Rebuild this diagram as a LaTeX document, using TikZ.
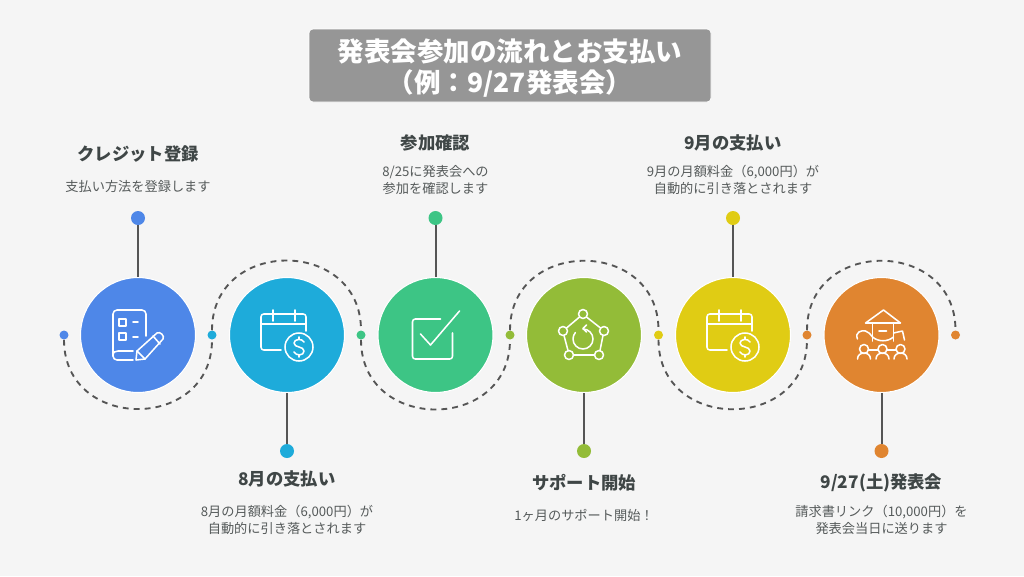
\documentclass[tikz,border=0pt]{standalone}
\usepackage{fontspec}
\setmainfont{Noto Sans CJK JP}
\definecolor{bgcol}{HTML}{F5F5F5}
\definecolor{titlecol}{HTML}{969696}
\definecolor{headcol}{HTML}{3F4646}
\definecolor{bodycol}{HTML}{555A5A}
\definecolor{linecol}{HTML}{555555}
\definecolor{bluecol}{HTML}{4E87E8}
\definecolor{cyancol}{HTML}{1EABDA}
\definecolor{greencol}{HTML}{3DC585}
\definecolor{limecol}{HTML}{93BC38}
\definecolor{yellowcol}{HTML}{E0CC14}
\definecolor{orangecol}{HTML}{E08530}
\tikzset{
  bigdisc/.style={circle,draw=white,line width=0.8pt,minimum size=115*0.75pt,inner sep=0pt},
  smalldot/.style={circle,minimum size=9*0.75pt,inner sep=0pt},
  enddot/.style={circle,minimum size=14*0.75pt,inner sep=0pt},
  stem/.style={draw=linecol,line width=1.5pt},
  wave/.style={draw=linecol,line width=1.4pt,dash pattern=on 4.4pt off 3.8pt,looseness=1.6},
  headtext/.style={text=headcol,font=\fontsize{13}{16}\selectfont\bfseries},
  bodytext/.style={text=bodycol,align=center,font=\fontsize{9.9}{12.75}\selectfont},
  iconline/.style={draw=white,line width=1.15pt,line cap=round,line join=round},
  pics/calpay/.style={code={
    \draw[iconline,rounded corners=2pt] (19,-4) -- (19,-21) -- (-26,-21) -- (-26,15) -- (-6,15);
    \draw[iconline] (-26,-11) -- (19,-11);
    \draw[iconline] (-14,-25) -- (-14,-14);
    \draw[iconline] (8,-25) -- (8,-14);
    \draw[iconline] (12,12) circle[radius=14];
    \draw[iconline] (17,7) .. controls (15,3) and (7,4) .. (7,8) .. controls (7,13) and (17,11) .. (17,16) .. controls (17,21) and (9,21) .. (7,17);
    \draw[iconline] (12,2) -- (12,4);
    \draw[iconline] (12,20) -- (12,22);
  }},
  pics/notepen/.style={code={
    \draw[iconline,rounded corners=3pt] (8,1) -- (8,-25) -- (-25,-25) -- (-25,25) -- (-5,25);
    \draw[iconline] (-25,21) .. controls (-25,17) and (-23,16) .. (-20,16) -- (-5,16);
    \draw[iconline] (-19,-16) rectangle (-12,-9);
    \draw[iconline] (-19,-2) rectangle (-12,5);
    \draw[iconline] (-5,-13) -- (0,-13);
    \draw[iconline] (-5,2) -- (0,2);
    \draw[iconline] (-2,25) -- (-1,16) -- (19,-2) .. controls (22,-4) and (27,1) .. (25,4) -- (7,24) -- cycle;
    \draw[iconline] (15,1) -- (22,9);
    \draw[iconline] (-1,16) -- (7,24);
  }},
  pics/checkbox/.style={code={
    \draw[iconline,rounded corners=2pt] (5,-16) -- (-23,-16) -- (-23,24) -- (17,24) -- (17,-2);
    \draw[iconline] (-15,-1) -- (-5,10) -- (24,-24);
  }},
  pics/cyclenet/.style={code={
    \draw[iconline] (-1,-21) circle[radius=4.5];
    \draw[iconline] (-21,-4) circle[radius=4.5];
    \draw[iconline] (20,-4) circle[radius=4.5];
    \draw[iconline] (-15,20) circle[radius=4.5];
    \draw[iconline] (15,20) circle[radius=4.5];
    \draw[iconline] (-4.5,-18) -- (-17.5,-7);
    \draw[iconline] (2.5,-18) -- (16.5,-7);
    \draw[iconline] (-20,0.5) -- (-16,15.5);
    \draw[iconline] (19,0.5) -- (16,15.5);
    \draw[iconline] (-10.5,20) -- (10.5,20);
    \draw[iconline] (-1,-6) arc[start angle=-90,end angle=220,radius=10];
    \draw[iconline] (2.5,-10) -- (-1,-6.5) -- (2.5,-3);
  }},
  pics/classroom/.style={code={
    \draw[iconline] (2,-25) -- (-16,-12) -- (19,-12) -- cycle;
    \draw[iconline] (-9,-11) -- (-9,6);
    \draw[iconline] (12,-11) -- (12,6);
    \draw[iconline] (-2.5,-4) -- (5,-4);
    \draw[iconline] (-9,2) .. controls (-3,7) and (6,7) .. (12,2);
    \draw[iconline] (-24,4) .. controls (-27,-3) and (-20,-5) .. (-16,-4) .. controls (-13,-3) and (-11,-1) .. (-9,2);
    \draw[iconline] (12,-2) -- (21,-4) -- (23,5);
    \draw[iconline] (-17.5,14) circle[radius=4.5];
    \draw[iconline] (1,14) circle[radius=4.5];
    \draw[iconline] (19,14) circle[radius=4.5];
    \draw[iconline] (-24,24) .. controls (-24,16) and (-11,16) .. (-11,24);
    \draw[iconline] (-5.5,24) .. controls (-5.5,16) and (7.5,16) .. (7.5,24);
    \draw[iconline] (12.5,24) .. controls (12.5,16) and (25.5,16) .. (25.5,24);
    \draw[iconline] (-13,15) -- (-3.5,15);
    \draw[iconline] (5.5,15) -- (14.5,15);
  }},
}
\begin{document}
\begin{tikzpicture}[x=0.75pt,y=-0.75pt]
  \fill[bgcol] (0,0) rectangle (1024,576);
  % title
  \node[fill=titlecol,draw=white,line width=0.5pt,rounded corners=3pt,minimum width=402*0.75pt,minimum height=73*0.75pt,inner sep=0pt] (titlebox) at (510,65.5) {};
  \node[text=white,align=center,inner sep=0pt,font=\fontsize{19.9}{23.2}\selectfont\bfseries] (title) at (510,68)
    {発表会参加の流れとお支払い\\（例：9/27発表会）};
  % discs
  \node[bigdisc,fill=bluecol] (disc1) at (138,335) {};
  \node[bigdisc,fill=cyancol] (disc2) at (287,335) {};
  \node[bigdisc,fill=greencol] (disc3) at (435.5,335) {};
  \node[bigdisc,fill=limecol] (disc4) at (584,335) {};
  \node[bigdisc,fill=yellowcol] (disc5) at (733,335) {};
  \node[bigdisc,fill=orangecol] (disc6) at (881.5,335) {};
  \pic at (disc1) {notepen};
  \pic at (disc2) {calpay};
  \pic at (disc3) {checkbox};
  \pic at (disc4) {cyclenet};
  \pic at (disc5) {calpay};
  \pic at (disc6) {classroom};
  % dots on the wave
  \node[smalldot,fill=bluecol] (wave1) at (64,335) {};
  \node[smalldot,fill=cyancol] (wave2) at (212,335) {};
  \node[smalldot,fill=greencol] (wave3) at (361,335) {};
  \node[smalldot,fill=limecol] (wave4) at (510,335) {};
  \node[smalldot,fill=yellowcol] (wave5) at (658.5,335) {};
  \node[smalldot,fill=orangecol] (wave6) at (807,335) {};
  \node[smalldot,fill=orangecol] (wave7) at (955.5,335) {};
  \draw[wave] (wave1.south) to[out=-90,in=-90] (wave2.south);
  \draw[wave] (wave2.north) to[out=90,in=90] (wave3.north);
  \draw[wave] (wave3.south) to[out=-90,in=-90] (wave4.south);
  \draw[wave] (wave4.north) to[out=90,in=90] (wave5.north);
  \draw[wave] (wave5.south) to[out=-90,in=-90] (wave6.south);
  \draw[wave] (wave6.north) to[out=90,in=90] (wave7.north);
  % stems
  \node[enddot,fill=bluecol] (end1) at (138,218) {};
  \node[enddot,fill=cyancol] (end2) at (287,451) {};
  \node[enddot,fill=greencol] (end3) at (435.5,218) {};
  \node[enddot,fill=limecol] (end4) at (584,451) {};
  \node[enddot,fill=yellowcol] (end5) at (733,218) {};
  \node[enddot,fill=orangecol] (end6) at (881.5,451) {};
  \draw[stem] (end1) -- (disc1);
  \draw[stem] (end2) -- (disc2);
  \draw[stem] (end3) -- (disc3);
  \draw[stem] (end4) -- (disc4);
  \draw[stem] (end5) -- (disc5);
  \draw[stem] (end6) -- (disc6);
  % labels
  \node[headtext] (head1) at (138,154) {クレジット登録};
  \node[bodytext] (body1) at (138,186) {支払い方法を登録します};
  \node[headtext] (head2) at (287,479) {8月の支払い};
  \node[bodytext] (body2) at (287,520) {8月の月額料金（6,000円）が\\自動的に引き落とされます};
  \node[headtext] (head3) at (435.5,143) {参加確認};
  \node[bodytext] (body3) at (435.5,180) {8/25に発表会への\\参加を確認します};
  \node[headtext] (head4) at (584,483) {サポート開始};
  \node[bodytext] (body4) at (584,515) {1ヶ月のサポート開始！};
  \node[headtext] (head5) at (733,143) {9月の支払い};
  \node[bodytext] (body5) at (733,180) {9月の月額料金（6,000円）が\\自動的に引き落とされます};
  \node[headtext] (head6) at (881.5,483) {9/27(土)発表会};
  \node[bodytext] (body6) at (881.5,520) {請求書リンク（10,000円）を\\発表会当日に送ります};
\end{tikzpicture}
\end{document}
